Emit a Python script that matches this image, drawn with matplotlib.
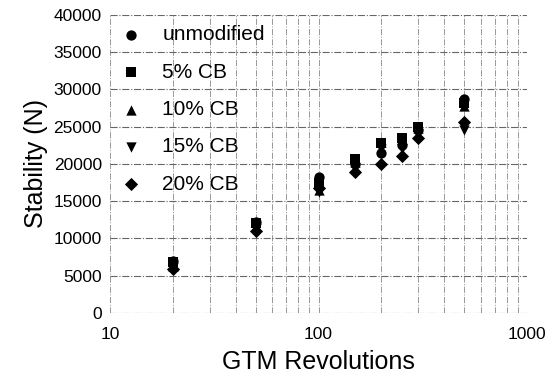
import numpy as np
import matplotlib
matplotlib.use("Agg")
import matplotlib.pyplot as plt
from matplotlib.ticker import FixedLocator, FixedFormatter, NullFormatter

plt.rcParams["font.family"] = ["Liberation Sans", "DejaVu Sans"]

revs = [20, 50, 100, 150, 200, 250, 300, 500]
unmodified = [7000, 12200, 18300, 20000, 21500, 22500, 24500, 28700]
cb5 = [6800, 12000, 17500, 20600, 22800, 23500, 25000, 28200]
cb10 = [6300, 11600, 16500, 20200, 23000, 23300, 24800, 27800]
cb15 = [6000, 11300, 16200, 19500, 22000, 22000, 24000, 24500]
cb20 = [5900, 11000, 16700, 18900, 20000, 21000, 23500, 25600]
xtick_labels = ["10", "100", "1000"]

series = [("unmodified", unmodified, "o", 55), ("5% CB", cb5, "s", 45),
          ("10% CB", cb10, "^", 55), ("15% CB", cb15, "v", 55), ("20% CB", cb20, "D", 45)]

fig = plt.figure(figsize=(5.56, 3.82), dpi=100)
ax = fig.add_axes([0.198, 0.181, 0.75, 0.78])
for lab, vals, m, sz in series:
    ax.scatter(revs, vals, marker=m, s=sz, color="black", label=lab, zorder=3, linewidths=0)

ax.set_xscale("log")
ax.set_xlim(10, 1000)
ax.set_ylim(0, 40000)
ax.set_yticks(np.arange(0, 40001, 5000))
ax.xaxis.set_major_locator(FixedLocator([10, 100, 1000]))
ax.xaxis.set_major_formatter(FixedFormatter(xtick_labels))
ax.xaxis.set_minor_formatter(NullFormatter())
ax.grid(True, which="major", axis="y", color="#666666", linestyle="-.", linewidth=0.8)
ax.grid(True, which="both", axis="x", color="#999999", linestyle="-.", linewidth=0.7)
for s in ax.spines.values():
    s.set_visible(False)
ax.tick_params(which="both", length=0, labelsize=12.5)
ax.tick_params(axis="x", pad=10)
ax.tick_params(axis="y", pad=6)
ax.set_xlabel("GTM Revolutions", fontsize=18, labelpad=6)
ax.set_ylabel("Stability (N)", fontsize=18, labelpad=4)
ax.legend(loc="upper left", frameon=False, fontsize=15, labelspacing=0.88,
          handlelength=1.0, handletextpad=1.0, borderaxespad=0.2, borderpad=0.3)
fig.savefig("out.png", dpi=100)
